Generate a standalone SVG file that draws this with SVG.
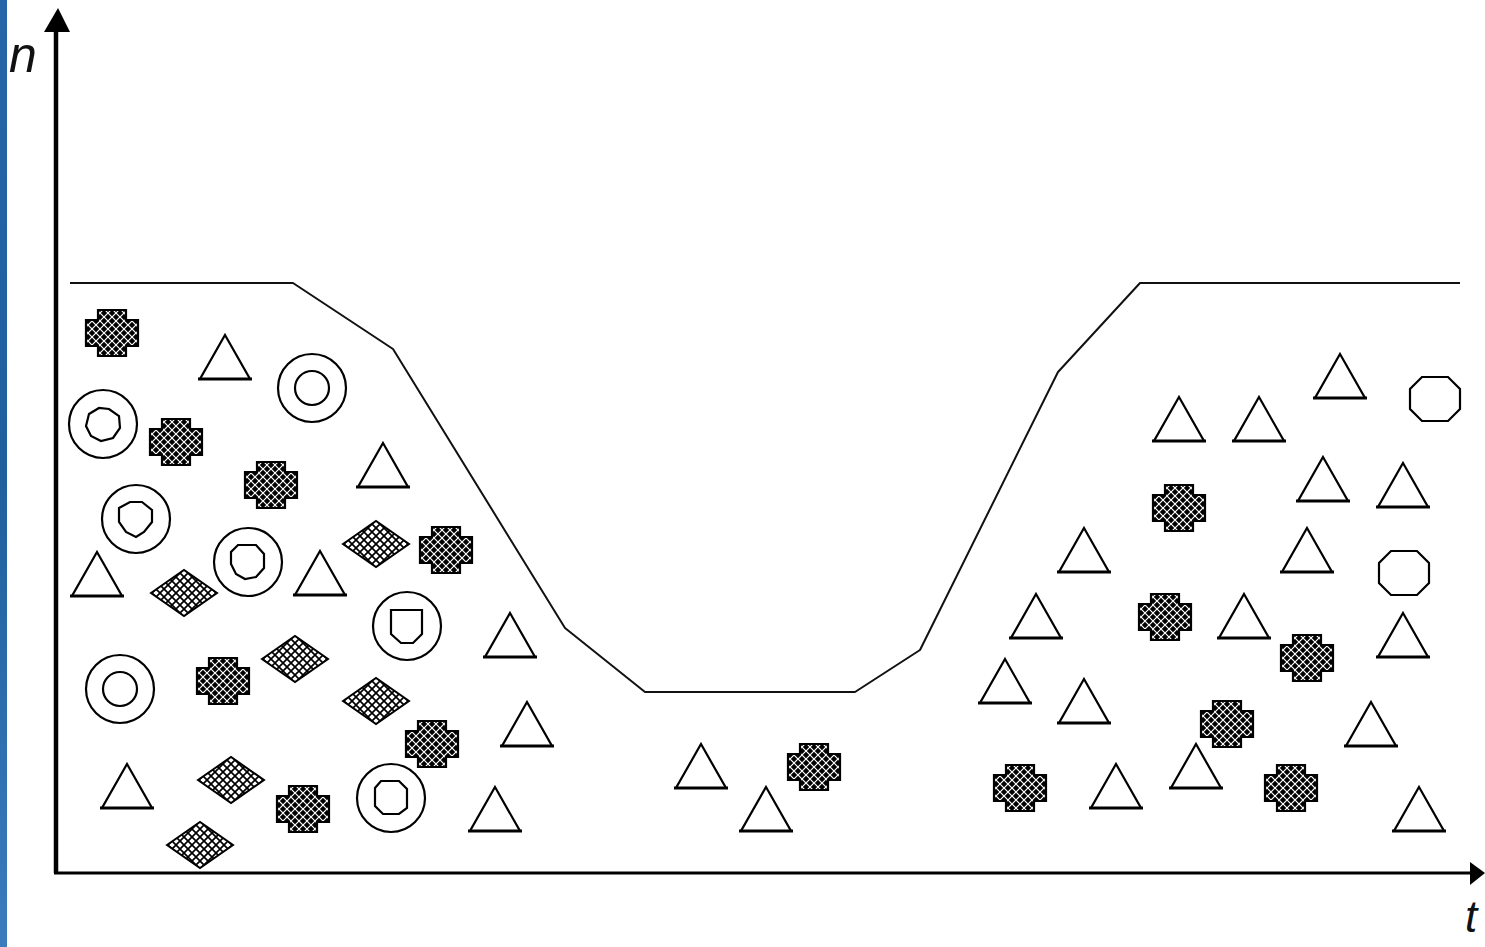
<svg xmlns="http://www.w3.org/2000/svg" xmlns:xlink="http://www.w3.org/1999/xlink" width="1485" height="947" viewBox="0 0 1485 947">
<style>
.ax{stroke:#000;fill:none}
.curve{stroke:#111;stroke-width:2;fill:none;stroke-linejoin:round}
.lbl{font-family:"Liberation Sans",Arial,sans-serif;font-style:italic;fill:#111}
.sh{stroke:#000;stroke-width:2.2;fill:#fff;stroke-linejoin:miter}
</style>
<defs>
<linearGradient id="blue" x1="0" y1="0" x2="0" y2="1">
<stop offset="0" stop-color="#2566a8"/>
<stop offset="0.5" stop-color="#1f5f9e"/>
<stop offset="1" stop-color="#3a7cbc"/>
</linearGradient>
<pattern id="crossPat" width="8" height="8" patternUnits="userSpaceOnUse">
<rect width="8" height="8" fill="#000"/>
<path d="M0,0 L8,8 M8,0 L0,8" stroke="#fff" stroke-width="1.2"/>
</pattern>
<pattern id="diaPat" width="8" height="8" patternUnits="userSpaceOnUse">
<rect width="8" height="8" fill="#fff"/>
<path d="M0,0 L8,8 M8,0 L0,8" stroke="#000" stroke-width="1.7"/>
</pattern>
<g id="tri">
<path d="M0,0 L25,44 L-25,44 Z" class="sh"/>
<path d="M-27,44 H27" stroke="#000" stroke-width="3"/>
</g>
<path id="cross" d="M-14,-23 H14 V-13 H26 V13 H14 V23 H-14 V13 H-26 V-13 H-14 Z" fill="url(#crossPat)" stroke="#000" stroke-width="2.2"/>
<path id="dia" d="M-33,0 L0,-23 L33,0 L0,23 Z" fill="url(#diaPat)" stroke="#000" stroke-width="2"/>
<path id="oct" d="M-13,-22 H13 L25,-10 V10 L13,22 H-13 L-25,10 V-10 Z" class="sh"/>
<circle id="ring" r="34" class="sh"/>
</defs>
<rect width="1485" height="947" fill="#fff"/>
<rect x="0" y="0" width="7" height="947" fill="url(#blue)"/>

<g id="axes">
<path class="ax" d="M56,30 V873" stroke-width="4.5"/>
<path d="M58,8 L44,32 L70,32 Z" fill="#000"/>
<path class="ax" d="M54,873 H1472" stroke-width="3"/>
<path d="M1485,873 L1470,862 L1470,885 Z" fill="#000"/>
<text class="lbl" x="9" y="72" font-size="50">n</text>
<text class="lbl" x="1465" y="932" font-size="44">t</text>
</g>

<g id="connectors">
<polyline class="curve" points="70,283 293,283 393,349 565,628 645,692 855,692 920,650 1058,372 1140,283 1460,283"/>
</g>

<g id="triangles">
<use xlink:href="#tri" x="225" y="335"/>
<use xlink:href="#tri" x="383" y="443"/>
<use xlink:href="#tri" x="97" y="552"/>
<use xlink:href="#tri" x="320" y="551"/>
<use xlink:href="#tri" x="510" y="613"/>
<use xlink:href="#tri" x="527" y="702"/>
<use xlink:href="#tri" x="127" y="764"/>
<use xlink:href="#tri" x="495" y="787"/>
<use xlink:href="#tri" x="701" y="744"/>
<use xlink:href="#tri" x="766" y="787"/>
<use xlink:href="#tri" x="1340" y="354"/>
<use xlink:href="#tri" x="1179" y="397"/>
<use xlink:href="#tri" x="1259" y="397"/>
<use xlink:href="#tri" x="1323" y="457"/>
<use xlink:href="#tri" x="1403" y="463"/>
<use xlink:href="#tri" x="1084" y="528"/>
<use xlink:href="#tri" x="1307" y="528"/>
<use xlink:href="#tri" x="1036" y="594"/>
<use xlink:href="#tri" x="1244" y="594"/>
<use xlink:href="#tri" x="1403" y="613"/>
<use xlink:href="#tri" x="1005" y="659"/>
<use xlink:href="#tri" x="1084" y="679"/>
<use xlink:href="#tri" x="1371" y="702"/>
<use xlink:href="#tri" x="1116" y="764"/>
<use xlink:href="#tri" x="1196" y="744"/>
<use xlink:href="#tri" x="1419" y="787"/>
</g>

<g id="crosses">
<use xlink:href="#cross" x="112" y="333"/>
<use xlink:href="#cross" x="176" y="442"/>
<use xlink:href="#cross" x="271" y="485"/>
<use xlink:href="#cross" x="446" y="550"/>
<use xlink:href="#cross" x="223" y="681"/>
<use xlink:href="#cross" x="432" y="744"/>
<use xlink:href="#cross" x="303" y="809"/>
<use xlink:href="#cross" x="814" y="767"/>
<use xlink:href="#cross" x="1179" y="508"/>
<use xlink:href="#cross" x="1165" y="617"/>
<use xlink:href="#cross" x="1307" y="658"/>
<use xlink:href="#cross" x="1227" y="724"/>
<use xlink:href="#cross" x="1020" y="788"/>
<use xlink:href="#cross" x="1291" y="788"/>
</g>

<g id="diamonds">
<use xlink:href="#dia" x="376" y="544"/>
<use xlink:href="#dia" x="184" y="593"/>
<use xlink:href="#dia" x="295" y="659"/>
<use xlink:href="#dia" x="376" y="701"/>
<use xlink:href="#dia" x="231" y="780"/>
<use xlink:href="#dia" x="200" y="845"/>
</g>

<g id="rings">
<g transform="translate(103,424)"><use xlink:href="#ring"/><path class="sh" d="M-14,-10 L-4,-16 L6,-15 L16,-8 L17,4 L10,14 L-2,17 L-12,12 L-17,2 Z"/></g>
<g transform="translate(312,388)"><use xlink:href="#ring"/><circle class="sh" r="17"/></g>
<g transform="translate(136,519)"><use xlink:href="#ring"/><path class="sh" d="M-17,-11 L-6,-17 L6,-17 L16,-9 L16,3 L8,13 L0,18 L-10,13 L-17,3 Z"/></g>
<g transform="translate(248,562)"><use xlink:href="#ring"/><path class="sh" d="M-10,-17 H8 L16,-8 V6 L8,15 L-3,17 L-12,12 L-17,2 V-10 Z"/></g>
<g transform="translate(407,626)"><use xlink:href="#ring"/><path class="sh" d="M-16,-16 H15 V8 L6,17 L-6,17 L-16,8 Z"/></g>
<g transform="translate(120,689)"><use xlink:href="#ring"/><circle class="sh" r="17"/></g>
<g transform="translate(391,798)"><use xlink:href="#ring"/><path class="sh" d="M-10,-17 H8 L16,-9 V10 L8,16 H-8 L-16,8 V-10 Z"/></g>
</g>

<g id="octagons">
<use xlink:href="#oct" x="1435" y="399"/>
<use xlink:href="#oct" x="1404" y="573"/>
</g>
</svg>
